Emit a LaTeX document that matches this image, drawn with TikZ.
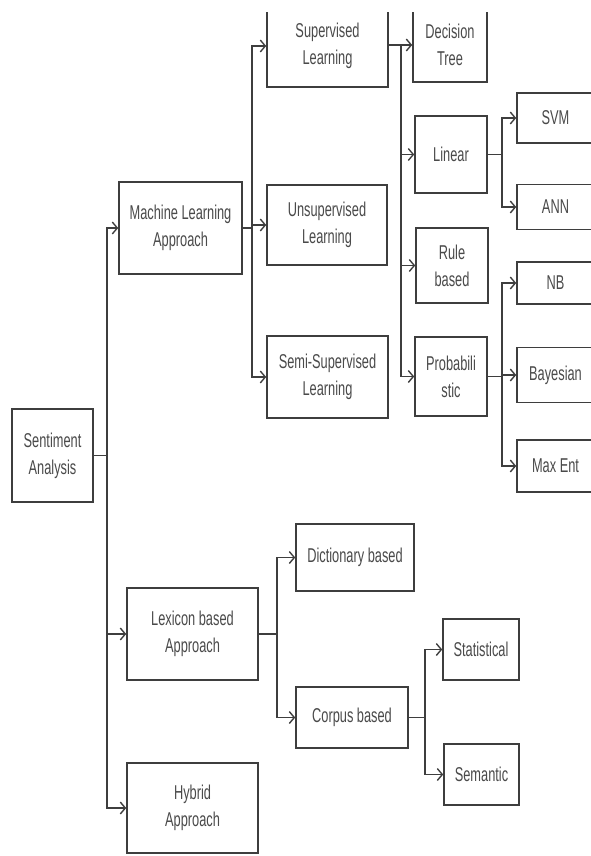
\documentclass[tikz,border=0pt]{standalone}
\usepackage{fontspec}
\setmainfont{Liberation Sans}[FakeStretch=0.64]
\usetikzlibrary{arrows.meta}
\definecolor{ln}{HTML}{3E3E3E}
\definecolor{tx}{HTML}{4A4A4A}
\tikzset{
  box/.style={draw=ln, line width=1.6pt, fill=white, inner sep=0pt, align=center,
    text=tx, font=\fontsize{20}{27}\selectfont},
  arr/.style={draw=ln, line width=1.4pt, -{Straight Barb[length=5pt,width=12pt,line width=1.4pt]}},
  lnk/.style={draw=ln, line width=1.4pt}
}
\begin{document}
\begin{tikzpicture}[x=1pt,y=-1pt]
\useasboundingbox (0,0) rectangle (591,856);
\begin{scope}
\clip (0,13) rectangle (591,856);
% level 0
\node[box, minimum width=81pt, minimum height=93pt] (sa) at (52.5,455.5) {Sentiment\\Analysis};
% level 1
\node[box, minimum width=123pt, minimum height=92pt] (ml) at (180.5,228) {Machine Learning\\Approach};
\node[box, minimum width=131pt, minimum height=92pt] (lex) at (192.5,634) {Lexicon based\\Approach};
\node[box, minimum width=131pt, minimum height=90pt] (hyb) at (192.5,808) {Hybrid\\Approach};
% level 2 ML
\node[box, minimum width=121pt, minimum height=82pt] (sup) at (327.5,46) {Supervised\\Learning};
\node[box, minimum width=120pt, minimum height=80pt] (uns) at (327,225) {Unsupervised\\Learning};
\node[box, minimum width=121pt, minimum height=82pt] (semi) at (327.5,377) {Semi-Supervised\\Learning};
% level 3
\node[box, minimum width=74pt, minimum height=74pt] (dt) at (450,45) {Decision\\Tree};
\node[box, minimum width=72pt, minimum height=77pt] (lin) at (451,154.5) {Linear};
\node[box, minimum width=72pt, minimum height=75pt] (rule) at (452,265.5) {Rule\\based};
\node[box, minimum width=72pt, minimum height=79pt] (prob) at (451,376.5) {Probabili\\stic};
% level 4
\node[box, minimum width=77pt, minimum height=50pt] (svm) at (555.5,118) {SVM};
\node[box, minimum width=77pt, minimum height=45pt] (ann) at (555.5,207) {ANN};
\node[box, minimum width=77pt, minimum height=42pt] (nb) at (555.5,283) {NB};
\node[box, minimum width=77pt, minimum height=55pt] (bay) at (555.5,375) {Bayesian};
\node[box, minimum width=77pt, minimum height=52pt] (me) at (555.5,466) {Max Ent};
% lexicon branch
\node[box, minimum width=118pt, minimum height=67pt] (dict) at (355,557.5) {Dictionary based};
\node[box, minimum width=112pt, minimum height=61pt] (corp) at (352,717.5) {Corpus based};
\node[box, minimum width=76pt, minimum height=61pt] (stat) at (481,649.5) {Statistical};
\node[box, minimum width=75pt, minimum height=61pt] (sem) at (481.5,774.5) {Semantic};

% trunk coordinates
\coordinate (t0) at (107,0);
\coordinate (t1) at (252,0);
\coordinate (t2) at (401,0);
\coordinate (t3) at (502,0);
\coordinate (t4) at (502,0);
\coordinate (t5) at (277,0);
\coordinate (t6) at (425,0);

% connectors
\foreach \c in {ml,lex,hyb} \draw[arr] (sa.east) -- (sa.east -| t0) |- (\c.west);
\foreach \c in {sup,uns,semi} \draw[arr] (ml.east) -- (ml.east -| t1) |- (\c.west);
\foreach \c in {dt,lin,rule,prob} \draw[arr] (sup.east |- dt.west) -- (dt.west -| t2) |- (\c.west);
\foreach \c in {svm,ann} \draw[arr] (lin.east) -- (lin.east -| t3) |- (\c.west);
\foreach \c in {nb,bay,me} \draw[arr] (prob.east) -- (prob.east -| t4) |- (\c.west);
\foreach \c in {dict,corp} \draw[arr] (lex.east) -- (lex.east -| t5) |- (\c.west);
\foreach \c in {stat,sem} \draw[arr] (corp.east) -- (corp.east -| t6) |- (\c.west);
\end{scope}
\end{tikzpicture}
\end{document}
